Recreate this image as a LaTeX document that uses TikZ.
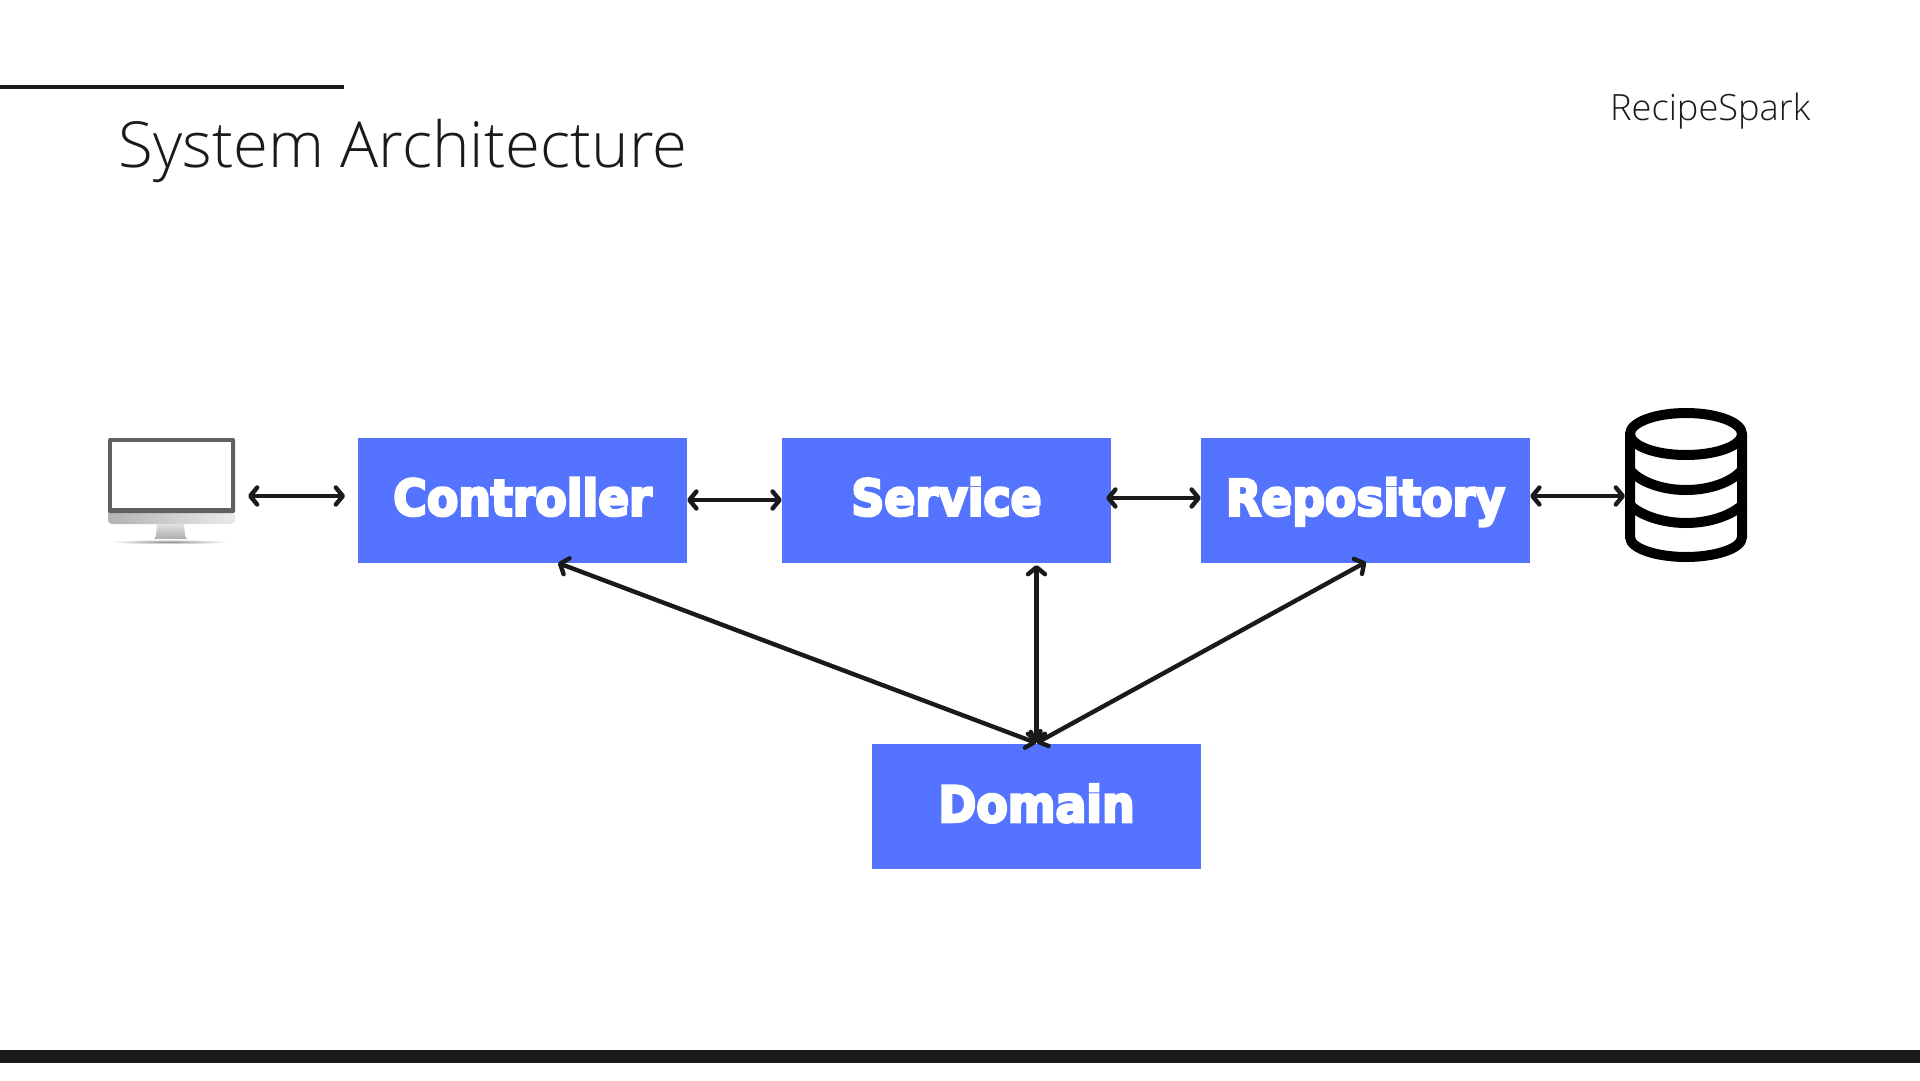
\documentclass[tikz,border=0pt]{standalone}
\usepackage{fontspec}
\usetikzlibrary{arrows.meta,shadings}
\setmainfont{Open Sans}[UprightFont={* Light}]
\newfontfamily\labelfont{DejaVu Sans Bold}[FakeBold=5,FakeStretch=0.915]
\newfontfamily\brandfont{Open Sans}[UprightFont={* Light}]
\definecolor{ink}{HTML}{1A1A1A}
\definecolor{boxblue}{HTML}{5473FF}
\definecolor{bezel}{HTML}{606060}
\tikzset{
  layerbox/.style={fill=boxblue,draw=none,minimum width=329pt,minimum height=125pt,inner sep=0pt,
    text=white,text height=39pt,text depth=8pt,font=\labelfont\fontsize{50}{50}\selectfont},
  link/.style={draw=ink,line width=4.4pt,line cap=round,line join=round,
    {Straight Barb[length=7pt,width=17pt,line width=4.4pt,round]}-{Straight Barb[length=7pt,width=17pt,line width=4.4pt,round]}},
  dbline/.style={draw=black,line width=10pt,line cap=round,line join=round},
}
\begin{document}
\begin{tikzpicture}[x=1pt,y=-1pt]
\useasboundingbox (0,0) rectangle (1920,1080);
\fill[white] (0,0) rectangle (1920,1080);
% header and footer
\fill[ink] (0,85) rectangle (344,89);
\fill[ink] (0,1050) rectangle (1920,1063);
\node[anchor=base west,inner sep=0pt,text=ink,font=\fontsize{63.5}{63.5}\selectfont] (title) at (118.5,167.5) {System Architecture};
\node[anchor=base west,inner sep=0pt,text=ink,font=\brandfont\fontsize{36.2}{36}\selectfont] (brand) at (1610,120) {RecipeSpark};
% boxes
\node[layerbox] (controller) at (522.5,500) {Controller};
\node[layerbox] (service) at (946.5,500) {Service};
\node[layerbox] (repository) at (1365.5,500) {Repository};
\node[layerbox] (domain) at (1036.5,806.5) {Domain};
% monitor
\shade[left color=black!30,right color=black!8,rounded corners=4pt] (108,500) rectangle (235,524);
\shade[top color=black!12,bottom color=black!35] (157,524) -- (184,524) -- (185,536) -- (189,541) -- (153,541) -- (156,536) -- cycle;
\fill[bezel,rounded corners=2pt] (108,438) rectangle (235,513);
\fill[white] (112,442) rectangle (231,508);
\shade[inner color=black!45,outer color=white] (110,539.5) rectangle (228,544);
% database
\draw[dbline] (1686,434) ellipse[x radius=56pt,y radius=21pt];
\draw[dbline] (1630,434) -- (1630,537) .. controls (1630,549) and (1658,557) .. (1686,557) .. controls (1714,557) and (1742,549) .. (1742,537) -- (1742,434);
\draw[dbline] (1630,470) .. controls (1640,482) and (1662,490) .. (1686,490) .. controls (1710,490) and (1732,482) .. (1742,470);
\draw[dbline] (1630,505) .. controls (1640,515) and (1662,523) .. (1686,523) .. controls (1710,523) and (1732,515) .. (1742,505);
\coordinate (db) at (1625,496);
% connectors
\coordinate (clientend) at (248,496);
\coordinate (ctrlleft) at (345,496);
\draw[link] (clientend) -- (ctrlleft);
\draw[link] (controller.east) -- (service.west);
\draw[link] ([shift={(-5pt,2pt)}]service.east) -- ([yshift=2pt]repository.west);
\draw[link] ([yshift=4pt]repository.east) -- (db);
\coordinate (domaintip) at (1036.5,743);
\coordinate (ctrlfoot) at (558,563);
\coordinate (servfoot) at (1036.5,565);
\coordinate (repofoot) at (1366,562);
\draw[link] (domaintip) -- (ctrlfoot);
\draw[link] (domaintip) -- (servfoot);
\draw[link] (domaintip) -- (repofoot);
\end{tikzpicture}
\end{document}
